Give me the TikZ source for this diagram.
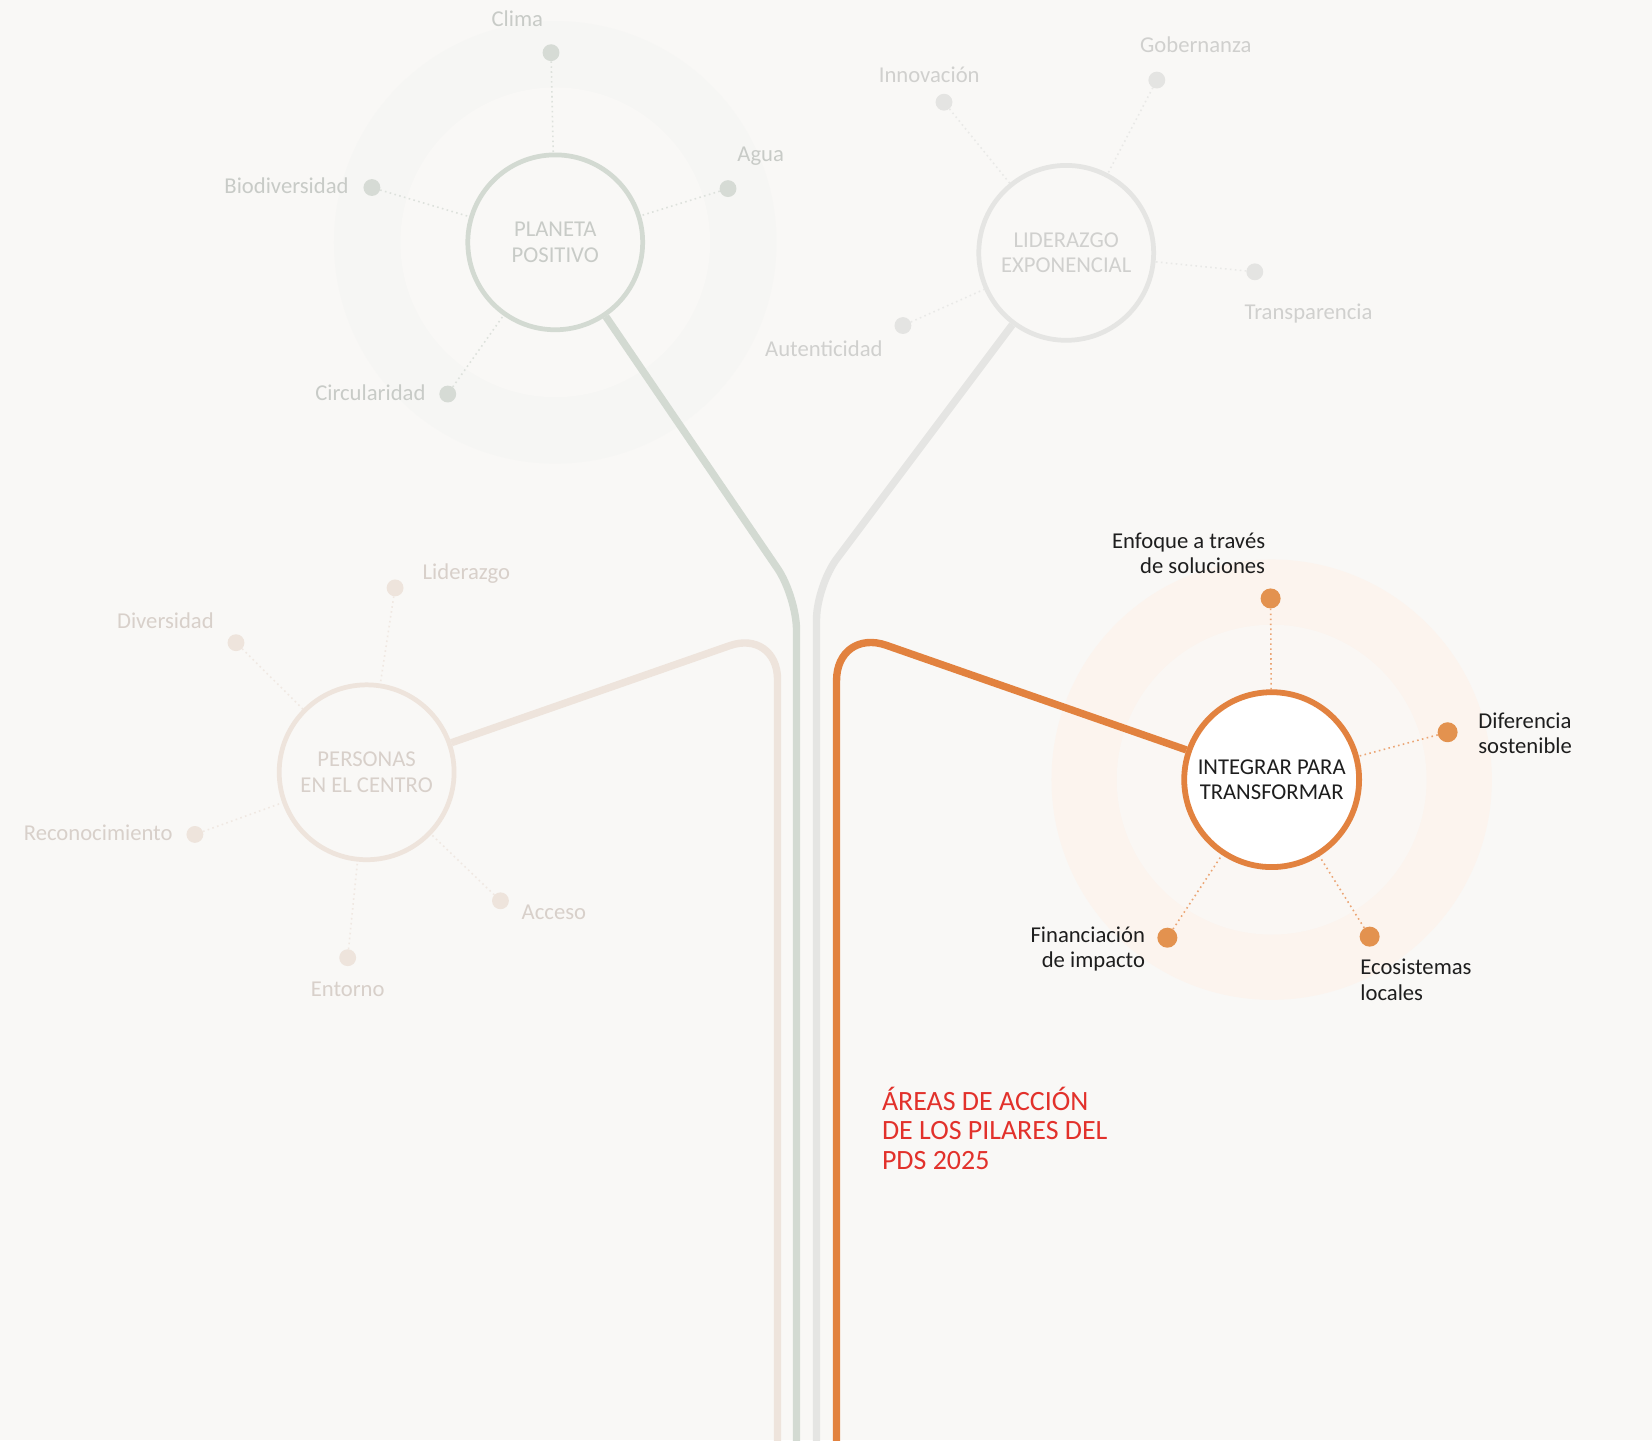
\documentclass[tikz,border=0pt]{standalone}
\usepackage{fontspec}
\setmainfont{Carlito}
\usetikzlibrary{backgrounds}
\definecolor{bgc}{HTML}{F9F8F6}
\definecolor{colP}{HTML}{D3DAD2}
\definecolor{dotPc}{HTML}{D6DBD5}
\definecolor{dotlP}{HTML}{DDE1DC}
\definecolor{txtP}{HTML}{C8CBC7}
\definecolor{haloPo}{HTML}{F6F6F4}
\definecolor{haloPi}{HTML}{F9F8F6}
\definecolor{colL}{HTML}{E5E5E3}
\definecolor{dotLc}{HTML}{E4E4E2}
\definecolor{dotlL}{HTML}{E9E9E7}
\definecolor{txtL}{HTML}{D0D0CE}
\definecolor{colE}{HTML}{EEE4DC}
\definecolor{dotEc}{HTML}{EEE4DC}
\definecolor{dotlE}{HTML}{F0E8E2}
\definecolor{txtE}{HTML}{D8D0CA}
\definecolor{colO}{HTML}{E2823F}
\definecolor{dotOc}{HTML}{E3924F}
\definecolor{dotlO}{HTML}{EBA574}
\definecolor{haloOo}{HTML}{FCF4EE}
\definecolor{haloOi}{HTML}{FAF7F4}
\definecolor{txtK}{HTML}{1E1E1E}
\definecolor{redt}{HTML}{E2312B}
\begin{document}
\begin{tikzpicture}[x=1pt,y=-1pt,
  pillar/.style={circle, inner sep=0pt, minimum size=166pt, line width=4.5pt, align=center, font=\fontsize{21.5}{24}\selectfont},
  sat/.style={circle, inner sep=0pt, minimum size=16pt},
  satO/.style={circle, inner sep=0pt, minimum size=19pt, fill=dotOc},
  lbl/.style={inner sep=0pt, font=\fontsize{21.5}{24}\selectfont},
  dotl/.style={line width=1.5pt, dash pattern=on 1.5pt off 3.2pt},
  stem/.style={line width=7pt},
]
\useasboundingbox (0,0) rectangle (1568,1367);
\begin{scope}[on background layer]
  \fill[bgc] (0,0) rectangle (1568,1367);
  \fill[haloPo] (527,230) circle (210pt);
  \fill[haloPi] (527,230) circle (147pt);
  \fill[haloOo] (1207,740) circle (209pt);
  \fill[haloOi] (1207,740) circle (147pt);
\end{scope}

% ---------- pillars ----------
\node[pillar, draw=colP, fill=bgc, text=txtP] (planeta) at (527,230) {PLANETA\\POSITIVO};
\node[pillar, draw=colL, fill=bgc, text=txtL] (lider) at (1012,240) {LIDERAZGO\\EXPONENCIAL};
\node[pillar, draw=colE, fill=bgc, text=txtE] (personas) at (348,733) {PERSONAS\\EN EL CENTRO};
\node[pillar, draw=colO, line width=5.5pt, fill=white, text=txtK] (integrar) at (1207,740) {INTEGRAR PARA\\TRANSFORMAR};

% ---------- satellites: Planeta ----------
\node[sat, fill=dotPc] (clima) at (523,50) {};
\node[sat, fill=dotPc] (agua) at (691,179) {};
\node[sat, fill=dotPc] (biod) at (353,178) {};
\node[sat, fill=dotPc] (circ) at (425,374) {};
\node[lbl, text=txtP] (tclima) at (491,18) {Clima};
\node[lbl, text=txtP] (tagua) at (722,148) {Agua};
\node[lbl, text=txtP, anchor=east] (tbiod) at (331,176) {Biodiversidad};
\node[lbl, text=txtP, anchor=east] (tcirc) at (404,373) {Circularidad};

% ---------- satellites: Liderazgo ----------
\node[sat, fill=dotLc] (innov) at (896,97) {};
\node[sat, fill=dotLc] (gober) at (1098,76) {};
\node[sat, fill=dotLc] (transp) at (1191,258) {};
\node[sat, fill=dotLc] (auten) at (857,309) {};
\node[lbl, text=txtL] (tinnov) at (882,71) {Innovación};
\node[lbl, text=txtL] (tgober) at (1135,42) {Gobernanza};
\node[lbl, text=txtL] (ttransp) at (1242,298) {Transparencia};
\node[lbl, text=txtL] (tauten) at (782,331) {Autenticidad};

% ---------- satellites: Personas ----------
\node[sat, fill=dotEc] (lidz) at (375,558) {};
\node[sat, fill=dotEc] (diver) at (224,610) {};
\node[sat, fill=dotEc] (recon) at (185,792) {};
\node[sat, fill=dotEc] (acces) at (475,855) {};
\node[sat, fill=dotEc] (entor) at (330,909) {};
\node[lbl, text=txtE, anchor=west] (tlidz) at (401,544) {Liderazgo};
\node[lbl, text=txtE] (tdiver) at (157,589) {Diversidad};
\node[lbl, text=txtE, anchor=east] (trecon) at (164,790) {Reconocimiento};
\node[lbl, text=txtE, anchor=west] (tacces) at (495,866) {Acceso};
\node[lbl, text=txtE] (tentor) at (330,939) {Entorno};

% ---------- satellites: Integrar ----------
\node[satO] (enfo) at (1206,568) {};
\node[satO] (difer) at (1374,695) {};
\node[satO] (ecos) at (1300,889) {};
\node[satO] (finan) at (1108,890) {};
\node[lbl, text=txtK, anchor=east, align=right] (tenfo) at (1201,525) {Enfoque a través\\de soluciones};
\node[lbl, text=txtK, anchor=west, align=left] (tdifer) at (1403,696) {Diferencia\\sostenible};
\node[lbl, text=txtK, anchor=west, align=left] (tecos) at (1291,930) {Ecosistemas\\locales};
\node[lbl, text=txtK, anchor=east, align=right] (tfinan) at (1087,901) {Financiación\\de impacto};

% ---------- title ----------
\node[inner sep=0pt, anchor=west, align=left, text=redt, font=\fontsize{26.5}{28}\selectfont] (title) at (837,1071) {ÁREAS DE ACCIÓN\\DE LOS PILARES DEL\\PDS 2025};

% ---------- connectors ----------
\begin{scope}[on background layer]
  \draw[stem, colP, rounded corners=32pt] (planeta) -- (756,566) -- (756,1372);
  \draw[stem, colL, rounded corners=32pt] (lider) -- (775,556) -- (775,1372);
  \draw[stem, colE, rounded corners=48pt] (personas) -- (738,597) -- (738,1372);
  \draw[stem, colO, rounded corners=50pt] (integrar) -- (794,596) -- (794,1372);
  \foreach \s in {clima,agua,biod,circ} \draw[dotl, dotlP] (\s) -- (planeta);
  \foreach \s in {innov,gober,transp,auten} \draw[dotl, dotlL] (\s) -- (lider);
  \foreach \s in {lidz,diver,recon,acces,entor} \draw[dotl, dotlE] (\s) -- (personas);
  \foreach \s in {enfo,difer,ecos,finan} \draw[dotl, dotlO] (\s) -- (integrar);
\end{scope}
\end{tikzpicture}
\end{document}
